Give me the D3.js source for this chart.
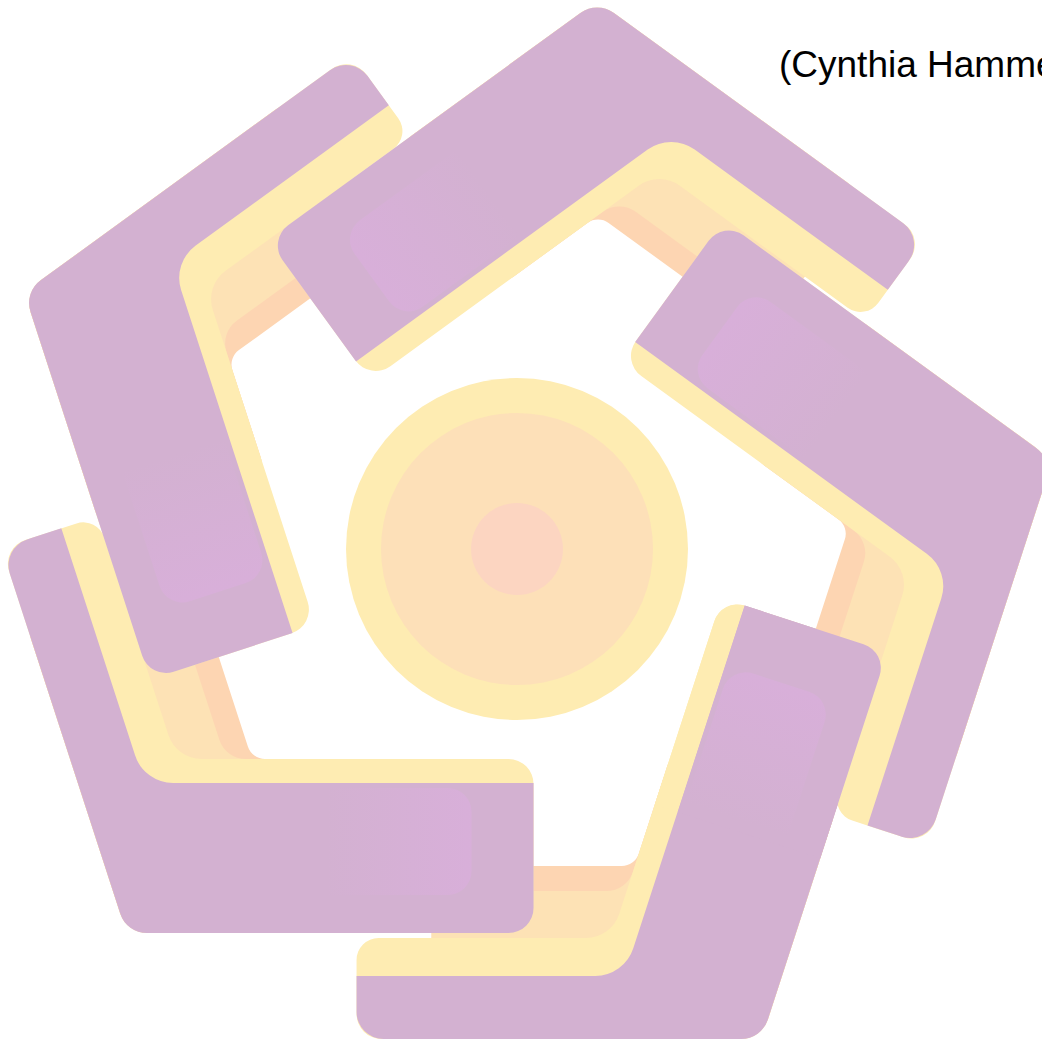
<!DOCTYPE html>
<html>
<head>
<meta charset="utf-8">
<script src="https://cdn.jsdelivr.net/npm/d3@7"></script>
<style>
  html, body { margin: 0; padding: 0; background: #fff; overflow: hidden; }
  svg { display: block; }
</style>
</head>
<body>
<script>
"use strict";

// five identical bands, turned around the middle (degrees), in drawing order
const pieceTurns = [0, 72, 144, 216, 288];

// layers of one band, drawn bottom to top
const layerNames = ["orange", "peach", "yellow", "purple"];
const layerColors = ["#fdd5b2", "#fde2b5", "#feecb2", "#d3b1d1"];
const layerInsetCw = [173, 148, 101, 63];    // depth on the short-purple arm
const layerInsetCcw = [174, 174, 174, 150];  // depth on the wide-purple arm
const layerArmCw = [330, 330, 405, 405];
const layerArmCcw = [250, 250, 407, 407];
// corner radii : end outer, corner, end outer, end inner, inner corner, end inner
const layerRadii = [
  [20, 30, 20, 20, 18, 20],
  [20, 30, 20, 20, 28, 20],
  [25, 28, 25, 25, 35, 22],
  [27, 28, 25, 0, 40, 0]
];

// centre disc
const ringNames = ["rim", "inner", "core"];
const ringRadii = [171, 136, 46];
const ringColors = ["#feecb2", "#fde0b8", "#fcd5c1"];

const caption = "(Cynthia Hammer";

const W = 1042, H = 1041;
const cx = 517, cy = 549;
const outerCw = 490, outerCcw = 384;
// the upper bands sit a little up and left of a perfect turn
const bandNudge = { 144: [-7, -4], 216: [-10, -8], 288: [-6, -8] };

const svg = d3.select("body").append("svg")
  .attr("width", W)
  .attr("height", H)
  .style("overflow", "hidden");

const defs = svg.append("defs");

let color = d3.scaleOrdinal().domain(layerNames).range(layerColors);

// local frame : the band whose short arm lies flat along the bottom
const a18 = 18 * Math.PI / 180;
const n1 = [0, 1], u1 = [-1, 0];
const n2 = [Math.cos(a18), Math.sin(a18)];
const u2 = [Math.sin(a18), -Math.cos(a18)];
const P0 = [(outerCcw - n2[1] * outerCw) / n2[0], outerCw];

function add(p, v, k) { return [p[0] + v[0] * k, p[1] + v[1] * k]; }

function bandPoints(t1, t2, L1, L2) {
  let A = add(P0, u1, L1);
  let B = add(P0, u2, L2);
  let Bi = add(B, n2, -t2);
  let qy = outerCw - t1;
  let Q = [(outerCcw - t2 - n2[1] * qy) / n2[0], qy];
  let Ai = add(A, n1, -t1);
  return [A, P0, B, Bi, Q, Ai];
}

function roundedPath(pts, radii) {
  const p = d3.path();
  const n = pts.length;
  p.moveTo((pts[n - 1][0] + pts[0][0]) / 2, (pts[n - 1][1] + pts[0][1]) / 2);
  for (let i = 0; i < n; i++) {
    let cur = pts[i], nxt = pts[(i + 1) % n];
    p.arcTo(cur[0], cur[1], nxt[0], nxt[1], radii[i]);
  }
  p.closePath();
  return p.toString();
}

function armPoint(u, w) { return add(add(P0, u2, u), n2, -w); }

function turnOf(d) {
  let s = bandNudge[d] || [0, 0];
  return `translate(${cx + s[0]},${cy + s[1]}) rotate(${d})`;
}

// soft pink sheen near the end of the wide arm
let g0 = armPoint(200, 90), g1 = armPoint(340, 90);
let grad = defs.append("linearGradient")
  .attr("id", "sheen")
  .attr("gradientUnits", "userSpaceOnUse")
  .attr("x1", g0[0]).attr("y1", g0[1])
  .attr("x2", g1[0]).attr("y2", g1[1]);
grad.append("stop").attr("offset", 0).attr("stop-color", "#dbaede").attr("stop-opacity", 0);
grad.append("stop").attr("offset", 1).attr("stop-color", "#dbaede").attr("stop-opacity", 0.62);

// clip for the end of the wide arm, redrawn over the band before it
let clipPts = [armPoint(190, -100), armPoint(190, 400), armPoint(700, 400), armPoint(700, -100)];
defs.append("clipPath")
  .attr("id", "armEnd")
  .append("path")
  .attr("d", "M" + clipPts.join("L") + "Z");

let layers = layerNames.map((name, i) => ({
  name: name,
  d: roundedPath(bandPoints(layerInsetCw[i], layerInsetCcw[i], layerArmCw[i], layerArmCcw[i]), layerRadii[i])
}));
let sheenD = roundedPath([armPoint(120, 38), armPoint(345, 38), armPoint(345, 145), armPoint(120, 145)], [24, 24, 24, 24]);
// yellow edge strip of the wide arm alone, so the redraw adds no fringe
let stripD = roundedPath([armPoint(150, 150), armPoint(407, 150), armPoint(407, 174), armPoint(150, 174)], [0, 0, 24, 0]);

// centre disc
svg.append("g")
  .selectAll("circle")
  .data(ringNames)
  .enter()
  .append("circle")
  .attr("cx", cx)
  .attr("cy", cy)
  .attr("r", (d, i) => ringRadii[i])
  .style("fill", (d, i) => ringColors[i]);

function drawBand(g) {
  g.selectAll("path.layer")
    .data(layers)
    .enter()
    .append("path")
    .attr("class", "layer")
    .attr("d", d => d.d)
    .style("fill", d => color(d.name));
  g.append("path")
    .attr("d", sheenD)
    .style("fill", "url(#sheen)");
}

// first pass : whole bands, each wide arm end lands on the band drawn before
svg.append("g")
  .selectAll("g.band")
  .data(pieceTurns)
  .enter()
  .append("g")
  .attr("class", "band")
  .attr("transform", turnOf)
  .each(function() { drawBand(d3.select(this)); });

// second pass : the first band's wide arm closes the ring over the last band
let end = svg.append("g")
  .attr("transform", turnOf(pieceTurns[0]))
  .append("g")
  .attr("clip-path", "url(#armEnd)");
end.append("path").attr("d", stripD).style("fill", color("yellow"));
end.append("path").attr("d", layers[3].d).style("fill", color("purple"));
end.append("path").attr("d", sheenD).style("fill", "url(#sheen)");

svg.append("text")
  .attr("x", 779)
  .attr("y", 77)
  .attr("font-family", "'Liberation Sans', Arial, sans-serif")
  .attr("font-size", 37)
  .attr("fill", "#000")
  .text(caption);
</script>
</body>
</html>
